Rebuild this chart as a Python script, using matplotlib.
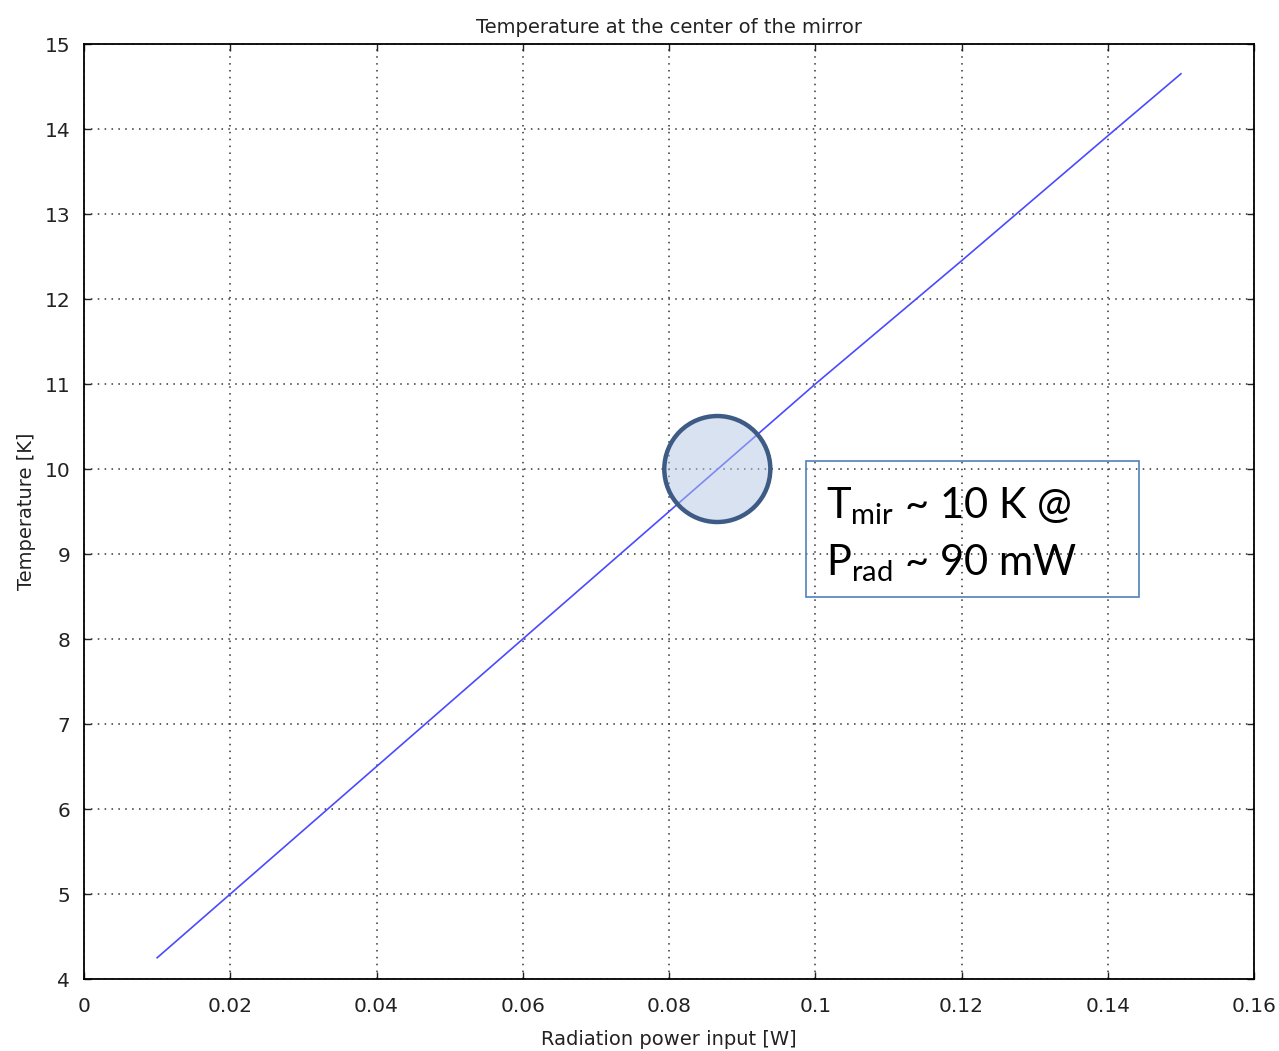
import matplotlib
matplotlib.use("Agg")
import matplotlib.pyplot as plt
from matplotlib.patches import Ellipse, Rectangle

# power input [W] vs temperature at mirror center [K]
power = [0.01, 0.02, 0.04, 0.06, 0.08, 0.10, 0.12, 0.14, 0.15]
temp = [4.25, 5.0, 6.5, 8.0, 9.5, 11.0, 12.45, 13.92, 14.65]

xticks = [0, 0.02, 0.04, 0.06, 0.08, 0.1, 0.12, 0.14, 0.16]
xtick_labels = ["0", "0.02", "0.04", "0.06", "0.08", "0.1", "0.12", "0.14", "0.16"]
yticks = list(range(4, 16))

# highlighted operating point
mark_x, mark_y = 0.0866, 10.0

plt.rcParams['font.family'] = ['DejaVu Sans']
plt.rcParams['mathtext.fontset'] = 'custom'
plt.rcParams['mathtext.rm'] = 'Lato'

fig = plt.figure(figsize=(12.79, 10.51), dpi=100)
ax = fig.add_axes([0.0657, 0.0685, 0.9148, 0.8896])

ax.plot(power, temp, color="#4a4aff", lw=1.2)

ax.set_xlim(0, 0.16)
ax.set_ylim(4, 15)
ax.set_xticks(xticks)
ax.set_xticklabels(xtick_labels)
ax.set_yticks(yticks)
ax.tick_params(direction="in", top=True, right=True, length=5, width=1,
               labelsize=14.5, colors="#222222")
ax.tick_params(axis="x", pad=13)
ax.tick_params(axis="y", pad=10)
for s in ax.spines.values():
    s.set_linewidth(1.3)
ax.grid(True, color="#333333", linestyle=(0, (1, 3.5)), lw=1.1)

ax.set_title("Temperature at the center of the mirror", fontsize=14, color="#222222", pad=8)
ax.set_xlabel("Radiation power input [W]", fontsize=14, color="#222222", labelpad=10)
ax.set_ylabel("Temperature [K]", fontsize=14, color="#222222", labelpad=6)

circ = Ellipse((mark_x, mark_y), width=0.0145, height=1.247, facecolor=(0.70, 0.78, 0.89, 0.5),
               edgecolor="#3d5b85", lw=3.2, zorder=3)
ax.add_patch(circ)

box = Rectangle((0.0987, 8.494), 0.0456, 1.6, facecolor="none",
                edgecolor="#4f81bd", lw=1.2, zorder=3)
ax.add_patch(box)
ax.text(0.1015, 9.424, r"$\mathregular{T_{mir}}$ ~ 10 K @", fontsize=30,
        family="Lato", zorder=4)
ax.text(0.1015, 8.753, r"$\mathregular{P_{rad}}$ ~ 90 mW", fontsize=30,
        family="Lato", zorder=4)

fig.savefig("out.png", dpi=100)
